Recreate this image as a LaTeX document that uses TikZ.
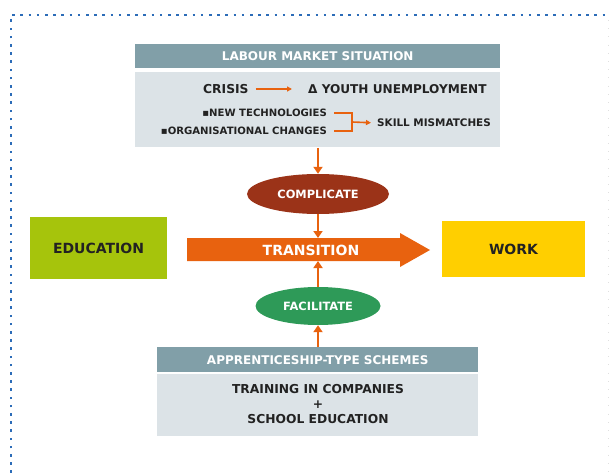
\documentclass[tikz,border=0pt]{standalone}
\usepackage{fontspec}
\setmainfont{DejaVu Sans}
\usetikzlibrary{shapes.geometric,arrows.meta,calc}
\definecolor{hdr}{HTML}{819FA8}
\definecolor{pane}{HTML}{DCE3E7}
\definecolor{orng}{HTML}{E8620F}
\definecolor{cmpl}{HTML}{9B3318}
\definecolor{facl}{HTML}{2E9A58}
\definecolor{edu}{HTML}{A6C40C}
\definecolor{wrk}{HTML}{FFCF00}
\definecolor{dots}{HTML}{2C6CB8}
\definecolor{txt}{HTML}{222222}
\tikzset{
  hdrbox/.style={fill=hdr, draw=none, text=white, font=\bfseries\fontsize{12}{14}\selectfont},
  panebox/.style={fill=pane, draw=none},
  ell/.style={ellipse, draw=none, text=white, font=\bfseries\fontsize{11.4}{13}\selectfont, inner sep=0pt},
  bigbox/.style={draw=none, text=txt, font=\bfseries\fontsize{14}{16}\selectfont},
  tx/.style={text=txt, font=\bfseries, inner sep=0pt},
  oarr/.style={draw=orng, line width=2.4pt, -{Triangle[length=7pt,width=9pt]}},
  othin/.style={draw=orng, line width=1.6pt},
  dotline/.style={draw=dots, line width=2.6pt, line cap=butt, dash pattern=on 2.6pt off 5.6pt}
}
\begin{document}
\begin{tikzpicture}[x=1pt,y=-1pt]
\useasboundingbox (0,0) rectangle (610,473);
% dotted frame
\draw[dotline] (11,473) -- (11,15) -- (606,15);
\draw[draw=black!12, line width=1pt, line cap=butt, dash pattern=on 1pt off 7.2pt] (608,20) -- (608,473);
% labour market
\node[hdrbox, minimum width=365pt, minimum height=24pt, anchor=north west] (lmh) at (135,44) {LABOUR MARKET SITUATION};
\node[panebox, minimum width=365pt, minimum height=75pt, anchor=north west] (lmp) at (135,72) {};
\node[tx, font=\bfseries\fontsize{12.3}{14}\selectfont, anchor=west] (crisis) at (203,89) {CRISIS};
\node[tx, font=\bfseries\fontsize{12.1}{14}\selectfont, anchor=west] (youth) at (308,89) {Δ YOUTH UNEMPLOYMENT};
\draw[othin, -{Triangle[length=5pt,width=5pt]}, shorten <=7pt, shorten >=16pt] (crisis.east) -- (youth.west);
\node[tx, font=\bfseries\fontsize{10.1}{11}\selectfont, anchor=east] (newtech) at (327,113) {▪NEW TECHNOLOGIES};
\node[tx, font=\bfseries\fontsize{10.1}{11}\selectfont, anchor=east] (orgch) at (327,131) {▪ORGANISATIONAL CHANGES};
\node[tx, font=\bfseries\fontsize{10.4}{12}\selectfont, anchor=west] (skill) at (377,123) {SKILL MISMATCHES};
\coordinate (bj) at (352,122);
\draw[othin] ($(newtech.east)+(7,0)$) -| (bj);
\draw[othin] ($(orgch.east)+(7,0)$) -| (bj);
\draw[othin, -{Triangle[length=5pt,width=5pt]}, shorten >=6pt] (bj) -- (skill.west);
% ellipses
\node[ell, fill=cmpl, minimum width=142pt, minimum height=40pt] (comp) at (318,194) {COMPLICATE};
\node[ell, fill=facl, minimum width=125pt, minimum height=38pt] (fac) at (318,306) {FACILITATE};
% side boxes
\node[bigbox, fill=edu, minimum width=137pt, minimum height=62pt] (edu) at (98.5,248) {EDUCATION};
\node[bigbox, fill=wrk, minimum width=143pt, minimum height=56pt] (work) at (513.5,249) {WORK};
% transition arrow
\fill[orng] (187,238) -- (400,238) -- (400,233) -- (430,250) -- (400,267) -- (400,261) -- (187,261) -- cycle;
\node[text=white, font=\bfseries\fontsize{14}{16}\selectfont] (trans) at (311,250) {TRANSITION};
\coordinate (ttop) at (318,238);
\coordinate (tbot) at (318,261);
% apprenticeship
\node[hdrbox, minimum width=321pt, minimum height=25pt, anchor=north west] (aph) at (157,347) {APPRENTICESHIP-TYPE SCHEMES};
\node[panebox, minimum width=321pt, minimum height=62pt, anchor=north west] (app) at (157,374) {};
\node[tx, font=\bfseries\fontsize{12.3}{15}\selectfont, align=center] (train) at (318,404) {TRAINING IN COMPANIES\\+\\SCHOOL EDUCATION};
% vertical arrows
\draw[oarr] (318,148) -- (comp.north);
\draw[oarr] (comp.south) -- (ttop);
\draw[oarr] (fac.north) -- (tbot);
\draw[oarr] (318,347) -- (fac.south);
\end{tikzpicture}
\end{document}
